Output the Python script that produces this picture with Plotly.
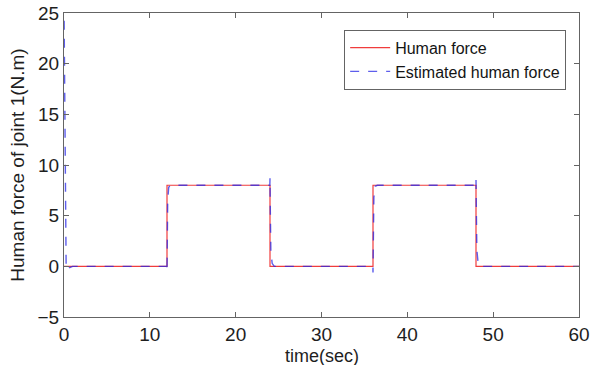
import plotly.graph_objects as go

# Reference human torque on joint 1 (square wave, N.m)
t_ref = [0, 12, 12, 24, 24, 36, 36, 48, 48, 60]
f_ref = [0, 0, 8, 8, 0, 0, 8, 8, 0, 0]

# Observer estimate: large initial transient, small spikes at each switch
t_est = [0, 0.02, 0.08, 0.15, 0.25, 0.4, 0.6, 1.0,
         11.98, 12.0, 12.03, 12.08, 12.2, 12.4,
         23.98, 24.0, 24.03, 24.1, 24.25, 24.5,
         35.98, 36.0, 36.03, 36.1, 36.25, 36.5,
         47.98, 48.0, 48.03, 48.1, 48.25, 48.5, 60]
f_est = [26, 24, 12, 3, -0.2, -0.35, -0.15, 0,
         0, -0.5, 1.5, 6.5, 7.8, 8,
         8, 8.7, 6.0, 1.5, 0.3, 0,
         0, -0.6, 1.8, 6.8, 7.9, 8,
         8, 8.6, 6.2, 1.6, 0.3, 0, 0]

font_family = "Arial, Liberation Sans, sans-serif"

fig = go.Figure()
fig.add_trace(go.Scatter(
    x=t_ref, y=f_ref, mode="lines", name="Human force",
    line=dict(color="rgb(240,60,60)", width=1.2),
))
fig.add_trace(go.Scatter(
    x=t_est, y=f_est, mode="lines", name="Estimated human force",
    line=dict(color="rgba(40,40,230,0.75)", width=1.4, dash="dash"),
))

axis_common = dict(
    showgrid=False, zeroline=False, showline=True, mirror="ticks",
    linecolor="rgb(100,100,100)", linewidth=1,
    ticks="inside", ticklen=5, tickcolor="rgb(100,100,100)",
    tickfont=dict(family=font_family, size=19, color="rgb(30,30,30)"),
    automargin=False,
)

fig.update_layout(
    width=598, height=365,
    margin=dict(l=64, r=19, t=13, b=48),
    paper_bgcolor="white", plot_bgcolor="white",
    font=dict(family=font_family, color="rgb(30,30,30)"),
    xaxis=dict(range=[0, 60], tickvals=[0, 10, 20, 30, 40, 50, 60],
               ticklabelstandoff=0, **axis_common),
    yaxis=dict(range=[-5, 25], tickvals=[-5, 0, 5, 10, 15, 20, 25],
               title=dict(text="Human force of joint 1(N.m)", font=dict(size=19), standoff=7),
               **axis_common),
    legend=dict(
        x=0.544, y=0.945, xanchor="left", yanchor="top",
        bgcolor="white", bordercolor="rgb(100,100,100)", borderwidth=1,
        font=dict(family=font_family, size=16, color="rgb(20,20,20)"),
        tracegroupgap=0, itemwidth=40,
    ),
    showlegend=True,
)

# x-axis title placed low, just above the lower edge of the figure
fig.add_annotation(
    text="time(sec)", xref="paper", yref="paper", x=0.5, y=-0.128,
    xanchor="center", yanchor="middle", showarrow=False,
    font=dict(family=font_family, size=18, color="rgb(30,30,30)"),
)

fig.write_html("out.html")
